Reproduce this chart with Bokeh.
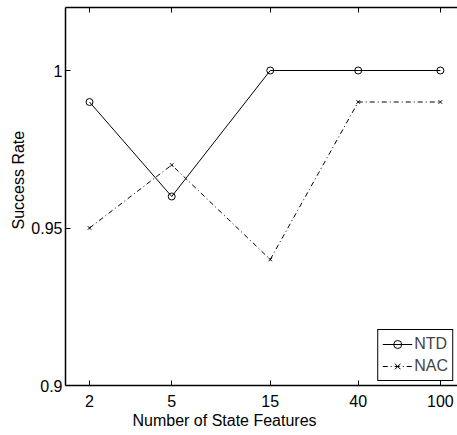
from bokeh.plotting import figure
from bokeh.models import (FixedTicker, NumeralTickFormatter, LogAxis, Range1d, Title)
from bokeh.embed import file_html
from bokeh.resources import INLINE

features = [2, 5, 15, 40, 100]
ntd = [0.99, 0.96, 1.0, 1.0, 1.0]
nac = [0.95, 0.97, 0.94, 0.99, 0.99]
x_ticks = [2, 5, 15, 40, 100]
y_ticks = [0.9, 0.95, 1.0]

FONT = "Liberation Sans"
FS = "16px"

p = figure(width=457, height=435, x_axis_type="log",
           x_range=Range1d(1.53, 121), y_range=Range1d(0.9, 1.02),
           output_backend="svg", toolbar_location=None,
           min_border_left=65, min_border_right=0, min_border_top=7,
           min_border_bottom=50)
p.outline_line_color = None
p.grid.visible = False
p.background_fill_color = "white"
p.border_fill_color = "white"

p.line(features, ntd, line_color="black", line_width=1, legend_label="NTD")
p.scatter(features, ntd, marker="circle", size=7, fill_color=None,
          line_color="black", line_width=1, legend_label="NTD")
p.line(features, nac, line_color="black", line_width=1, line_dash="5 3 1 3",
       legend_label="NAC")
p.scatter(features, nac, marker="x", size=5, line_color="black",
          line_width=1, legend_label="NAC")

for ax in (p.xaxis[0], p.yaxis[0]):
    ax.axis_line_color = "black"
    ax.axis_line_width = 1.5
    ax.major_tick_in = 5
    ax.major_tick_out = 0
    ax.minor_tick_line_color = None
    ax.major_tick_line_color = "black"
    ax.major_label_text_font = FONT
    ax.major_label_text_font_size = FS
    ax.major_label_text_color = "black"

p.xaxis[0].ticker = FixedTicker(ticks=x_ticks)
p.xaxis[0].formatter = NumeralTickFormatter(format="0")
p.xaxis[0].major_label_standoff = 9

p.yaxis[0].ticker = FixedTicker(ticks=y_ticks)
p.yaxis[0].formatter = NumeralTickFormatter(format="0.[00]")
p.yaxis[0].major_label_standoff = 3

top = LogAxis(ticker=FixedTicker(ticks=x_ticks))
top.axis_line_color = "black"
top.axis_line_width = 1.5
top.major_tick_in = 5
top.major_tick_out = 0
top.minor_tick_line_color = None
top.major_label_text_font_size = "1px"
top.major_label_text_color = None
top.major_label_standoff = 0
p.add_layout(top, "above")

xlab = Title(text="Number of State Features", align="left", offset=67,
             standoff=0, text_font=FONT, text_font_size=FS,
             text_font_style="normal", text_color="black")
ylab = Title(text="Success Rate", align="left", offset=156,
             standoff=4, text_font=FONT, text_font_size=FS,
             text_font_style="normal", text_color="black")
p.add_layout(xlab, "below")
p.add_layout(ylab, "left")

lg = p.legend[0]
lg.location = "bottom_right"
lg.margin = 4
lg.padding = 4
lg.spacing = 2
lg.label_height = 20
lg.glyph_width = 30
lg.label_standoff = 2
lg.label_text_font = FONT
lg.label_text_font_size = FS
lg.border_line_color = "black"
lg.border_line_alpha = 1
lg.border_line_width = 1
lg.background_fill_alpha = 1

open("out.html", "w").write(file_html(p, INLINE))
